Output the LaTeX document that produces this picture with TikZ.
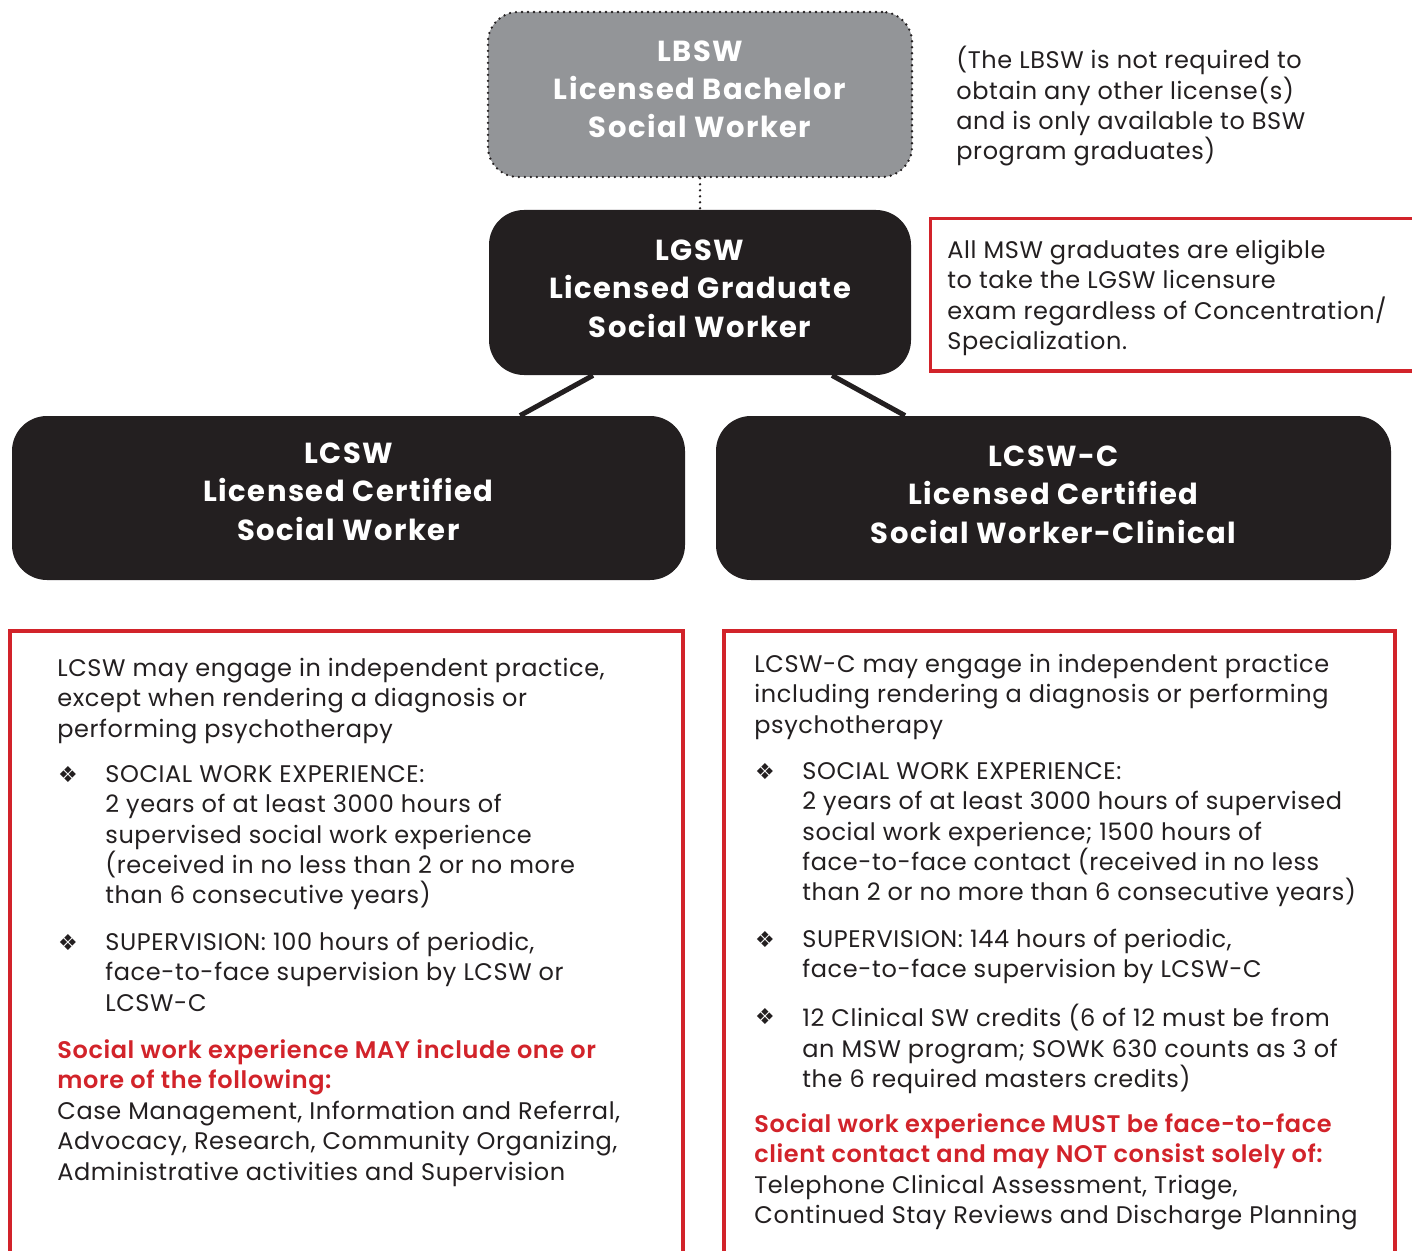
\documentclass[tikz,border=0pt]{standalone}
\usepackage{fontspec}
\setmainfont{Poppins}
\newfontfamily\symfont{DejaVu Sans}
\newfontfamily\semib{Poppins SemiBold}
\usetikzlibrary{calc}
\definecolor{lgray}{HTML}{939598}
\definecolor{ink}{HTML}{231F20}
\definecolor{cred}{HTML}{D2232A}
\newcommand{\bstrut}{\rule{0pt}{10pt}}
\newcommand{\tstrut}{\rule{0pt}{12pt}}
\begin{document}
\begin{tikzpicture}[x=0.5pt,y=-0.5pt,
  titletext/.style={text=white, font=\fontsize{14.5}{19.15}\selectfont\bfseries\addfontfeature{LetterSpace=5}, align=center, inner sep=0pt, anchor=north},
  bodytext/.style={text=ink, font=\fontsize{12}{15.15}\selectfont\addfontfeature{LetterSpace=2.5}, align=left, inner sep=0pt, anchor=north west},
  redhead/.style={bodytext, text=cred, font=\fontsize{12}{15.15}\semib\addfontfeature{LetterSpace=2.5}},
  bulletmark/.style={text=ink, font=\symfont\fontsize{11}{12}\selectfont, inner sep=0pt, anchor=base},
  darkbox/.style={fill=ink, rounded corners=17.5pt, minimum height=82.5pt, inner sep=0pt},
  graybox/.style={fill=lgray, draw=ink, line width=1.3pt, dash pattern=on 0pt off 3pt, line cap=round, rounded corners=15pt, minimum height=82.5pt, minimum width=212pt, inner sep=0pt},
  conn/.style={draw=ink, line width=2.5pt},
  redframe/.style={draw=cred, line width=2pt},
]
\useasboundingbox (0,0) rectangle (1412,1251);
\fill[white] (0,0) rectangle (1412,1251);

% boxes
\node[graybox] (lbsw) at (700,94.5) {};
\node[darkbox, minimum width=211pt] (lgsw) at (700,292.5) {};
\node[darkbox, minimum width=336.5pt, minimum height=82pt] (lcsw) at (348.5,498) {};
\node[darkbox, minimum width=337.5pt, minimum height=82pt] (lcswc) at (1053.5,498) {};

% connectors
\draw[ink, line width=1.3pt, dash pattern=on 0pt off 3pt, line cap=round] (lbsw.south) -- (lgsw.north);
\draw[conn] ($(lgsw.south)+(-107,0)$) -- ($(lcsw.north)+(171.5,0)$);
\draw[conn] ($(lgsw.south)+(132,0)$) -- ($(lcswc.north)+(-148.5,0)$);

% titles
\node[titletext] (lbswt) at (700,37) {\tstrut LBSW\\Licensed Bachelor\\Social Worker};
\node[titletext] (lgswt) at (700,236) {\tstrut LGSW\\Licensed Graduate\\Social Worker};
\node[titletext] (lcswt) at (348.5,439) {\tstrut LCSW\\Licensed Certified\\Social Worker};
\node[titletext] (lcswct) at (1053.5,442) {\tstrut LCSW-C\\Licensed Certified\\Social Worker-Clinical};

% notes
\node[bodytext] (note1) at (956,46) {\bstrut(The LBSW is not required to\\obtain any other license(s)\\and is only available to BSW\\program graduates)};
\draw[redframe, line width=1.5pt] (930,219) rectangle (1425,371);
\node[bodytext] (note2) at (947,238) {\bstrut All MSW graduates are eligible\\to take the LGSW licensure\\exam regardless of Concentration/\\Specialization.};

% red frames
\draw[redframe] (10,631) rectangle (683,1275);
\draw[redframe] (724,631) rectangle (1395,1275);

% left column
\node[bodytext] (lp1) at (57,656) {\bstrut LCSW may engage in independent practice,\\except when rendering a diagnosis or\\performing psychotherapy};
\node[bulletmark] (lb1) at (68,782) {❖};
\node[bodytext] (lt1) at (105,762) {\bstrut SOCIAL WORK EXPERIENCE:\\2 years of at least 3000 hours of\\supervised social work experience\\(received in no less than 2 or no more\\than 6 consecutive years)};
\node[bulletmark] (lb2) at (68,950) {❖};
\node[bodytext] (lt2) at (105,930) {\bstrut SUPERVISION: 100 hours of periodic,\\face-to-face supervision by LCSW or\\LCSW-C};
\node[redhead] (lh) at (57,1038) {\bstrut Social work experience MAY include one or\\more of the following:};
\node[bodytext] (lp2) at (57,1099) {\bstrut Case Management, Information and Referral,\\Advocacy, Research, Community Organizing,\\Administrative activities and Supervision};

% right column
\node[bodytext] (rp1) at (754,652) {\bstrut LCSW-C may engage in independent practice\\including rendering a diagnosis or performing\\psychotherapy};
\node[bulletmark] (rb1) at (765,779) {❖};
\node[bodytext] (rt1) at (802,759) {\bstrut SOCIAL WORK EXPERIENCE:\\2 years of at least 3000 hours of supervised\\social work experience; 1500 hours of\\face-to-face contact (received in no less\\than 2 or no more than 6 consecutive years)};
\node[bulletmark] (rb2) at (765,947) {❖};
\node[bodytext] (rt2) at (802,927) {\bstrut SUPERVISION: 144 hours of periodic,\\face-to-face supervision by LCSW-C};
\node[bulletmark] (rb3) at (765,1024) {❖};
\node[bodytext] (rt3) at (802,1004) {\bstrut 12 Clinical SW credits (6 of 12 must be from\\an MSW program; SOWK 630 counts as 3 of\\the 6 required masters credits)};
\node[redhead] (rh) at (754,1112) {\bstrut Social work experience MUST be face-to-face\\client contact and may NOT consist solely of:};
\node[bodytext] (rp2) at (754,1173) {\bstrut Telephone Clinical Assessment, Triage,\\Continued Stay Reviews and Discharge Planning};
\end{tikzpicture}
\end{document}
